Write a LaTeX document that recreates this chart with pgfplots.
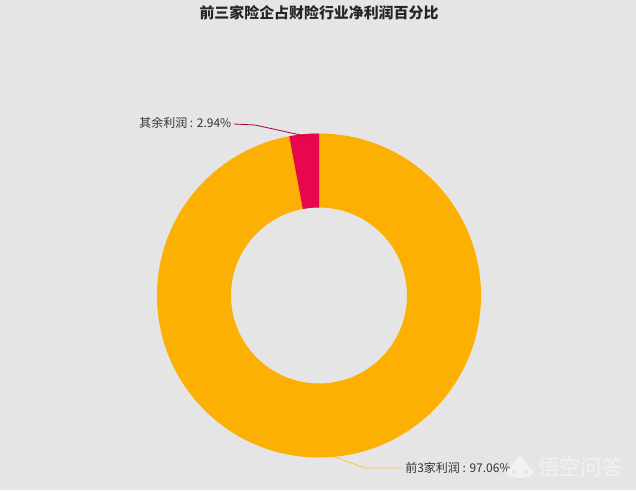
\documentclass[border=0pt]{standalone}
\usepackage{fontspec}
\usepackage{pgfplots}
\usepackage{pgfplotstable}
\pgfplotsset{compat=1.18}
\setmainfont{Liberation Sans}
\newfontfamily\cjk{Noto Sans CJK SC}
\definecolor{bg}{HTML}{E5E5E5}
\definecolor{gold}{HTML}{FBB003}
\definecolor{rose}{HTML}{E8064F}
\definecolor{wm}{HTML}{F2F2F2}

% share of net profit, percent
\pgfplotstableread{
name share
top3 97.06
rest 2.94
}\slices
\pgfplotstablegetelem{1}{share}\of\slices
\pgfmathsetmacro{\restend}{90+\pgfplotsretval*3.6}

\begin{document}
\begin{tikzpicture}
\begin{axis}[
    scale only axis,
    width=477pt, height=367.5pt,
    xmin=0, xmax=636, ymin=0, ymax=490,
    hide axis, clip=false,
    every axis plot/.append style={no markers},
]
\fill[bg] (axis cs:0,0) rectangle (axis cs:636,490);

% ring: full circle in gold, the small slice on top
\fill[gold, even odd rule] (axis cs:319,194.5) circle[radius=121.5pt]
    (axis cs:319,194.5) circle[radius=66pt];
\fill[rose] ([shift={(90:121.5pt)}]axis cs:319,194.5)
    arc[start angle=90, end angle=\restend, radius=121.5pt]
    -- ([shift={(\restend:66pt)}]axis cs:319,194.5)
    arc[start angle=\restend, end angle=90, radius=66pt] -- cycle;

% leader lines
\addplot[rose!70!black, line width=0.6pt] coordinates {(234,366) (255,365) (305,354)};
\addplot[gold!70!white, line width=0.7pt] coordinates {(335,33) (365,22) (402,22)};

\node[anchor=center, font=\cjk\bfseries\fontsize{11.2pt}{13pt}\selectfont, text=black!85]
    at (axis cs:319,477) {前三家险企占财险行业净利润百分比};
\node[anchor=west, inner sep=0pt, font=\cjk\fontsize{9pt}{11pt}\selectfont, text=black!80]
    at (axis cs:139,367) {其余利润 : 2.94\%};
\node[anchor=west, inner sep=0pt, font=\cjk\fontsize{9pt}{11pt}\selectfont, text=black!80]
    at (axis cs:405,22) {前3家利润 : 97.06\%};

% watermark, drawn over the end of the label as in the source
\fill[wm] (axis cs:520,18) ellipse[x radius=10pt, y radius=4.5pt];
\fill[wm] (axis cs:510,20) .. controls (axis cs:512,28) and (axis cs:518,30) .. (axis cs:520,37)
    .. controls (axis cs:522,30) and (axis cs:528,28) .. (axis cs:530,20) -- cycle;
\fill[bg] (axis cs:514,18) circle[radius=1.5pt];
\fill[bg] (axis cs:526,18) circle[radius=1.5pt];
\node[anchor=west, inner sep=0pt, font=\cjk\fontsize{16pt}{18pt}\selectfont, text=wm]
    at (axis cs:538,23) {悟空问答};
\end{axis}
\end{tikzpicture}
\end{document}
